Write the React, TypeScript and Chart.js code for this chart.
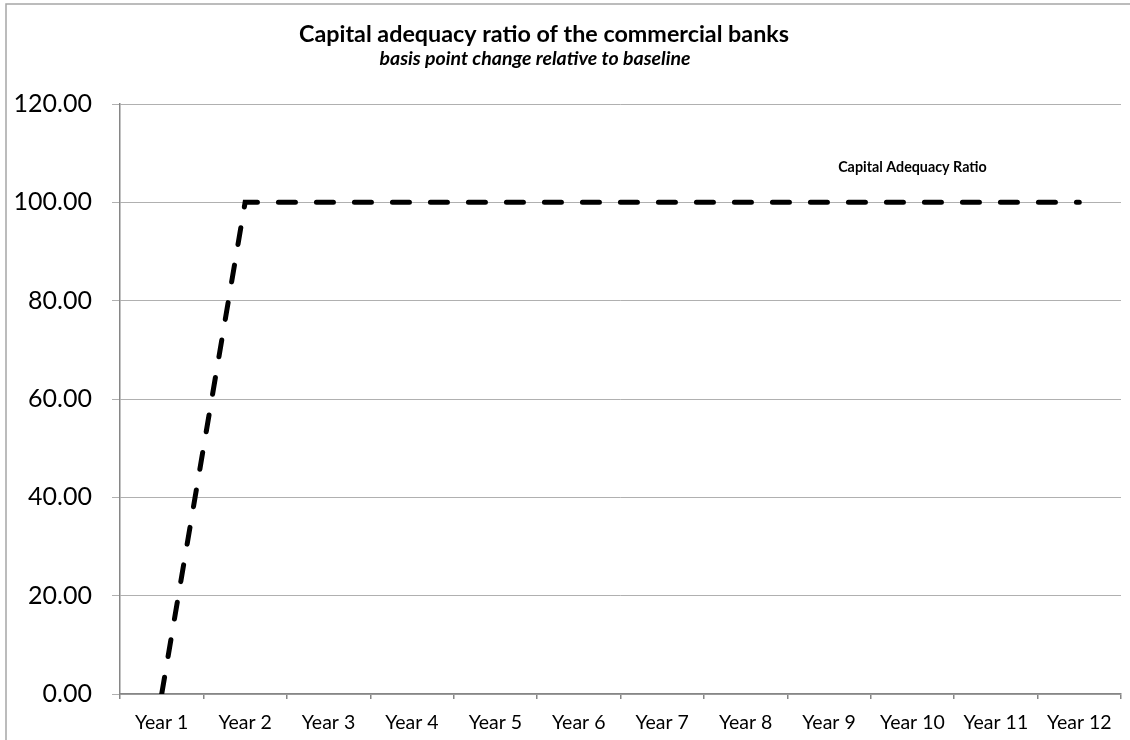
import React, { useEffect, useRef } from "react";
import { Chart, registerables } from "chart.js";

Chart.register(...registerables);

const categories = [
  "Year 1", "Year 2", "Year 3", "Year 4", "Year 5", "Year 6",
  "Year 7", "Year 8", "Year 9", "Year 10", "Year 11", "Year 12",
];
const carValues = [0, 100, 100, 100, 100, 100, 100, 100, 100, 100, 100, 100];
const seriesLabel = "Capital Adequacy Ratio";
const labelPointIndex = 9;
const titleText = "Capital adequacy ratio of the commercial banks";
const subtitleText = "basis point change relative to baseline";
const yMin = 0;
const yMax = 120;
const yStep = 20;

const FONT = "Lato, 'Open Sans', sans-serif";

const decorPlugin = {
  id: "decor",
  beforeDraw(chart: any) {
    const ctx = chart.ctx;
    ctx.save();
    ctx.fillStyle = "#ffffff";
    ctx.fillRect(0, 0, chart.width, chart.height);
    ctx.strokeStyle = "#a6a6a6";
    ctx.lineWidth = 1.5;
    ctx.beginPath();
    ctx.moveTo(6, chart.height);
    ctx.lineTo(6, 4);
    ctx.lineTo(chart.width, 4);
    ctx.stroke();
    ctx.restore();
  },
  afterDraw(chart: any) {
    const ctx = chart.ctx;
    ctx.save();
    ctx.fillStyle = "#000000";
    ctx.textAlign = "center";
    ctx.textBaseline = "middle";
    ctx.font = `bold 23.3px ${FONT}`;
    ctx.fillText(titleText, 544, 34);
    ctx.font = `italic bold 19.5px ${FONT}`;
    ctx.fillText(subtitleText, 535, 59);
    const xs = chart.scales.x;
    const ys = chart.scales.y;
    const px = xs.getPixelForValue(labelPointIndex);
    const py = ys.getPixelForValue(carValues[labelPointIndex]);
    ctx.font = `bold 14.3px ${FONT}`;
    ctx.fillText(seriesLabel, px, py - 35);
    ctx.restore();
  },
};

export default function App() {
  const ref = useRef<HTMLCanvasElement | null>(null);
  useEffect(() => {
    document.body.style.margin = "0";
    if (!ref.current) return;
    const chart = new Chart(ref.current, {
      type: "line",
      data: {
        labels: categories,
        datasets: [
          {
            label: seriesLabel,
            data: carValues,
            borderColor: "#000000",
            borderWidth: 5,
            borderDash: [17, 21],
            borderCapStyle: "round",
            pointRadius: 0,
            tension: 0,
            fill: false,
          },
        ],
      },
      options: {
        animation: false,
        responsive: false,
        devicePixelRatio: 1,
        layout: { padding: { top: 104, right: 9, left: 0, bottom: 0 } },
        plugins: {
          legend: { display: false },
          title: { display: false },
          tooltip: { enabled: false },
        },
        scales: {
          x: {
            type: "category",
            offset: true,
            grid: {
              offset: true,
              drawOnChartArea: false,
              drawTicks: true,
              tickLength: 5,
              color: "#868686",
              lineWidth: 1.5,
            },
            border: { color: "#868686", width: 1.5 },
            ticks: {
              color: "#000000",
              font: { family: FONT, size: 19.5 },
              padding: 12,
              maxRotation: 0,
              autoSkip: false,
            },
            afterFit(scale: any) {
              scale.height = 46;
            },
          },
          y: {
            min: yMin,
            max: yMax,
            grid: {
              color: "#b0b0b0",
              lineWidth: 1,
              tickLength: 8,
              drawTicks: true,
            },
            border: { color: "#868686", width: 1.5 },
            ticks: {
              stepSize: yStep,
              color: "#000000",
              font: { family: FONT, size: 25 },
              padding: 20,
              callback: (v: any) => Number(v).toFixed(2),
            },
            afterFit(scale: any) {
              scale.width = 120;
            },
          },
        },
      },
      plugins: [decorPlugin],
    });
    return () => chart.destroy();
  }, []);
  return (
    <div style={{ position: "fixed", left: 0, top: 0, width: 1130, height: 740 }}>
      <canvas ref={ref} width={1130} height={740} style={{ width: 1130, height: 740 }} />
    </div>
  );
}
